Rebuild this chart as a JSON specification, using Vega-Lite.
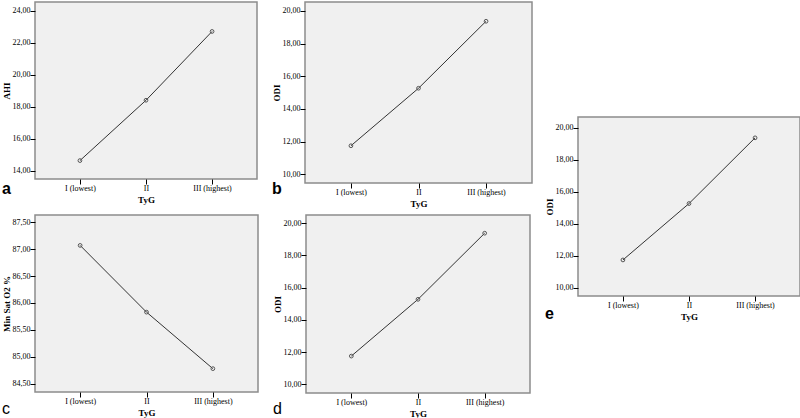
{
  "$schema": "https://vega.github.io/schema/vega-lite/v6.json",
  "padding": {"left": 1, "top": 1, "right": 0, "bottom": 0},
  "background": "white",
  "datasets": {
    "ahi": [
      {"tyg": "I (lowest)", "value": 14.65},
      {"tyg": "II", "value": 18.42},
      {"tyg": "III (highest)", "value": 22.72}
    ],
    "odi": [
      {"tyg": "I (lowest)", "value": 11.75},
      {"tyg": "II", "value": 15.27},
      {"tyg": "III (highest)", "value": 19.37}
    ],
    "minsat": [
      {"tyg": "I (lowest)", "value": 87.07},
      {"tyg": "II", "value": 85.83},
      {"tyg": "III (highest)", "value": 84.78}
    ]
  },
  "hconcat": [
    {
      "vconcat": [
        {
          "hconcat": [
            {
              "width": 222, "height": 177,
              "data": {"name": "ahi"},
              "title": {"text": "a", "offset": -23},
              "encoding": {
                "x": {"field": "tyg", "type": "ordinal", "sort": null, "scale": {"type": "point", "padding": 0.68}, "axis": {"title": "TyG", "labelAngle": 0}},
                "y": {"field": "value", "type": "quantitative", "scale": {"domain": [13.5, 24.56], "nice": false, "zero": false}, "axis": {"title": "AHI", "values": [14, 16, 18, 20, 22, 24], "format": ".2f"}}
              },
              "layer": [
                {"mark": {"type": "line", "color": "#333333", "strokeWidth": 1}},
                {"mark": {"type": "point", "filled": false, "color": "#555555", "size": 14, "strokeWidth": 1, "opacity": 1}}
              ]
            },
            {
              "width": 227, "height": 181,
              "data": {"name": "odi"},
              "title": {"text": "b", "offset": -27},
              "encoding": {
                "x": {"field": "tyg", "type": "ordinal", "sort": null, "scale": {"type": "point", "padding": 0.68}, "axis": {"title": "TyG", "labelAngle": 0}},
                "y": {"field": "value", "type": "quantitative", "scale": {"domain": [9.47, 20.55], "nice": false, "zero": false}, "axis": {"title": "ODI", "values": [10, 12, 14, 16, 18, 20], "format": ".2f"}}
              },
              "layer": [
                {"mark": {"type": "line", "color": "#333333", "strokeWidth": 1}},
                {"mark": {"type": "point", "filled": false, "color": "#555555", "size": 14, "strokeWidth": 1, "opacity": 1}}
              ]
            }
          ],
          "spacing": 13
        },
        {
          "hconcat": [
            {
              "width": 223, "height": 177,
              "data": {"name": "minsat"},
              "title": {"text": "c", "offset": -16, "fontWeight": "normal"},
              "encoding": {
                "x": {"field": "tyg", "type": "ordinal", "sort": null, "scale": {"type": "point", "padding": 0.68}, "axis": {"title": "TyG", "labelAngle": 0}},
                "y": {"field": "value", "type": "quantitative", "scale": {"domain": [84.346, 87.635], "nice": false, "zero": false}, "axis": {"title": "Min Sat O2 %", "values": [84.5, 85, 85.5, 86, 86.5, 87, 87.5], "format": ".2f"}}
              },
              "layer": [
                {"mark": {"type": "line", "color": "#333333", "strokeWidth": 1}},
                {"mark": {"type": "point", "filled": false, "color": "#555555", "size": 14, "strokeWidth": 1, "opacity": 1}}
              ]
            },
            {
              "width": 224, "height": 178,
              "data": {"name": "odi"},
              "title": {"text": "d", "offset": -17, "fontWeight": "normal"},
              "encoding": {
                "x": {"field": "tyg", "type": "ordinal", "sort": null, "scale": {"type": "point", "padding": 0.68}, "axis": {"title": "TyG", "labelAngle": 0}},
                "y": {"field": "value", "type": "quantitative", "scale": {"domain": [9.46, 20.5], "nice": false, "zero": false}, "axis": {"title": "ODI", "values": [10, 12, 14, 16, 18, 20], "format": ".2f"}}
              },
              "layer": [
                {"mark": {"type": "line", "color": "#333333", "strokeWidth": 1}},
                {"mark": {"type": "point", "filled": false, "color": "#555555", "size": 14, "strokeWidth": 1, "opacity": 1}}
              ]
            }
          ],
          "spacing": 13
        }
      ],
      "spacing": 5
    },
    {
      "vconcat": [
        {
          "width": 200, "height": 113,
          "data": {"values": [{}]},
          "mark": {"type": "point", "opacity": 0},
          "view": {"fill": "transparent", "stroke": "transparent"}
        },
        {
          "width": 222, "height": 179,
          "data": {"name": "odi"},
          "title": {"text": "e", "offset": -15},
          "encoding": {
            "x": {"field": "tyg", "type": "ordinal", "sort": null, "scale": {"type": "point", "padding": 0.68}, "axis": {"title": "TyG", "labelAngle": 0}},
            "y": {"field": "value", "type": "quantitative", "scale": {"domain": [9.5, 20.67], "nice": false, "zero": false}, "axis": {"title": "ODI", "values": [10, 12, 14, 16, 18, 20], "format": ".2f"}}
          },
          "layer": [
            {"mark": {"type": "line", "color": "#333333", "strokeWidth": 1}},
            {"mark": {"type": "point", "filled": false, "color": "#555555", "size": 14, "strokeWidth": 1, "opacity": 1}}
          ]
        }
      ],
      "spacing": 0
    }
  ],
  "spacing": 11,
  "config": {
    "locale": {"number": {"decimal": ",", "thousands": ".", "grouping": [3], "currency": ["", ""]}},
    "view": {"fill": "#f0f0f0", "stroke": "#8c8c8c", "strokeWidth": 1.5},
    "axis": {
      "labelFont": "Liberation Serif", "labelFontSize": 8, "labelColor": "#000000",
      "titleFont": "Liberation Serif", "titleFontSize": 9, "titleFontWeight": "bold", "titleColor": "#000000",
      "domain": false, "grid": false, "tickColor": "#000000", "tickSize": 5, "labelPadding": 0, "titlePadding": 1
    },
    "axisX": {"labelPadding": 0, "titlePadding": 3},
    "title": {"font": "Liberation Sans", "fontSize": 16, "fontWeight": "bold", "color": "#000000", "orient": "bottom", "anchor": "start", "frame": "bounds"}
  }
}
